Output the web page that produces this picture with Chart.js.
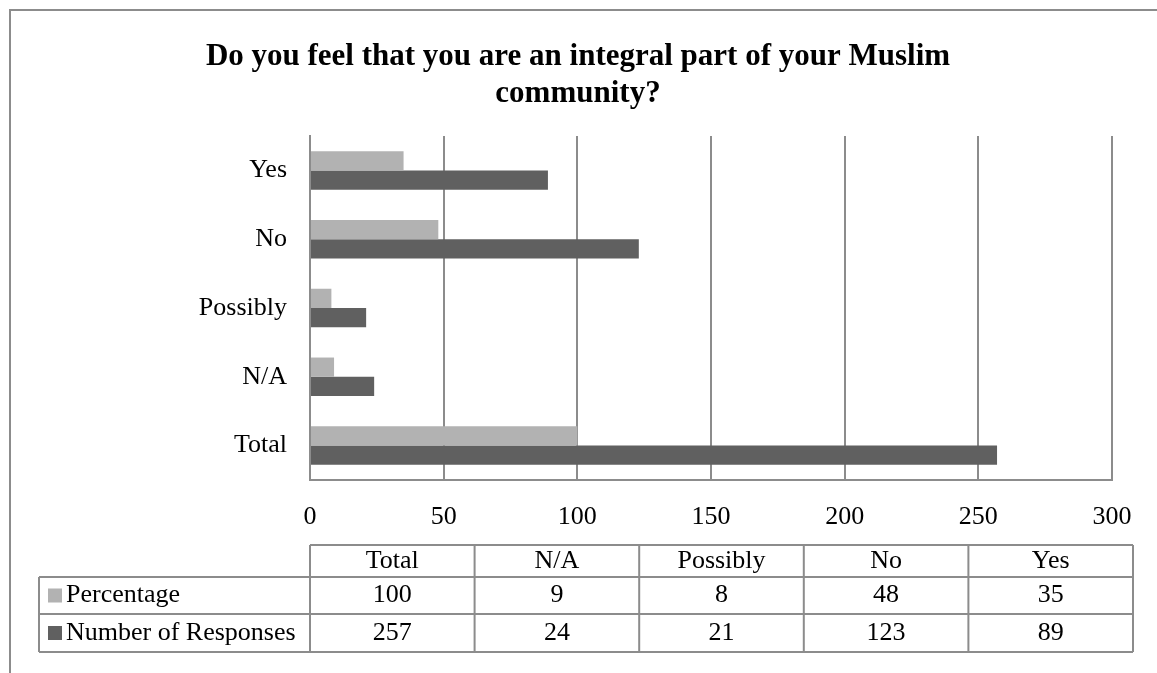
<!DOCTYPE html>
<html>
<head>
<meta charset="utf-8">
<script src="https://cdn.jsdelivr.net/npm/chart.js@4.4.1/dist/chart.umd.min.js"></script>
<style>
  html, body { margin: 0; padding: 0; background: #fff; }
  canvas { display: block; }
</style>
</head>
<body>
<canvas id="c" width="1157" height="673"></canvas>
<script>
// Survey answers, listed bottom-to-top on the chart (same order as the data table columns)
const categories = ['Total', 'N/A', 'Possibly', 'No', 'Yes'];
const percentage = [100, 9, 8, 48, 35];
const responses = [257, 24, 21, 123, 89];
const seriesNames = ['Percentage', 'Number of Responses'];
const xTickMin = 0, xTickMax = 300, xTickStep = 50;
const titleLines = ['Do you feel that you are an integral part of your Muslim', 'community?'];

const LIGHT = '#b2b2b2';
const DARK = '#606060';
const RULE = '#8c8c8c';
const SERIF = '"Liberation Serif", "Times New Roman", serif';
const FONT_SIZE = 26;

// Frame, title and the data table beneath the axis
const framePlugin = {
  id: 'frame',
  beforeDraw(chart) {
    const ctx = chart.ctx;
    ctx.save();
    ctx.fillStyle = '#fff';
    ctx.fillRect(0, 0, chart.width, chart.height);
    ctx.strokeStyle = RULE;
    ctx.lineWidth = 2;
    ctx.beginPath();
    ctx.moveTo(10, chart.height);
    ctx.lineTo(10, 10);
    ctx.lineTo(chart.width, 10);
    ctx.stroke();

    ctx.fillStyle = '#000';
    ctx.font = 'bold 31px ' + SERIF;
    ctx.textAlign = 'center';
    ctx.textBaseline = 'middle';
    titleLines.forEach((t, i) => ctx.fillText(t, 578, 57 + i * 37));
    ctx.restore();
  },
  afterDraw(chart) {
    const ctx = chart.ctx;
    const left = 39, colStart = 310, right = 1133;
    const rowY = [545, 577, 614, 652];
    const colW = (right - colStart) / categories.length;
    const rows = [percentage, responses];
    const keys = [LIGHT, DARK];

    ctx.save();
    ctx.strokeStyle = RULE;
    ctx.lineWidth = 2;
    ctx.beginPath();
    // header row (category names), no cell above the series names
    ctx.moveTo(colStart, rowY[0]); ctx.lineTo(right, rowY[0]);
    for (let r = 1; r < rowY.length; r++) {
      ctx.moveTo(left, rowY[r]); ctx.lineTo(right, rowY[r]);
    }
    ctx.moveTo(left, rowY[1]); ctx.lineTo(left, rowY[3]);
    for (let c = 0; c <= categories.length; c++) {
      const x = colStart + c * colW;
      ctx.moveTo(x, rowY[0]); ctx.lineTo(x, rowY[3]);
    }
    ctx.stroke();

    ctx.fillStyle = '#000';
    ctx.font = FONT_SIZE + 'px ' + SERIF;
    ctx.textBaseline = 'middle';
    ctx.textAlign = 'center';
    categories.forEach((cat, c) => {
      ctx.fillText(cat, colStart + (c + 0.5) * colW, (rowY[0] + rowY[1]) / 2);
    });
    rows.forEach((vals, r) => {
      const yMid = (rowY[r + 1] + rowY[r + 2]) / 2;
      ctx.textAlign = 'center';
      ctx.fillStyle = '#000';
      vals.forEach((v, c) => ctx.fillText(String(v), colStart + (c + 0.5) * colW, yMid));
      ctx.fillStyle = keys[r];
      ctx.fillRect(48, yMid - 7, 14, 14);
      ctx.fillStyle = '#000';
      ctx.textAlign = 'left';
      ctx.fillText(seriesNames[r], 66, yMid);
    });
    ctx.restore();
  }
};

new Chart(document.getElementById('c'), {
  type: 'bar',
  data: {
    labels: categories,
    datasets: [
      { label: seriesNames[0], data: percentage, backgroundColor: LIGHT },
      { label: seriesNames[1], data: responses, backgroundColor: DARK }
    ]
  },
  options: {
    indexAxis: 'y',
    responsive: false,
    animation: false,
    datasets: { bar: { barPercentage: 1, categoryPercentage: 0.56 } },
    layout: { padding: { top: 136, right: 45, bottom: 133, left: 0 } },
    plugins: {
      legend: { display: false },
      tooltip: { enabled: false },
      title: { display: false }
    },
    scales: {
      x: {
        min: xTickMin,
        max: xTickMax,
        ticks: {
          stepSize: xTickStep,
          color: '#000',
          padding: 22,
          font: { family: SERIF, size: FONT_SIZE }
        },
        grid: { color: RULE, lineWidth: 2, drawTicks: false },
        border: { color: RULE, width: 2 },
        afterFit(s) { s.height = 60; }
      },
      y: {
        reverse: true,
        ticks: {
          color: '#000',
          padding: 23,
          font: { family: SERIF, size: FONT_SIZE }
        },
        grid: { display: false, drawTicks: false },
        border: { color: RULE, width: 2 },
        afterFit(s) { s.width = 310; }
      }
    }
  },
  plugins: [framePlugin]
});
</script>
</body>
</html>
